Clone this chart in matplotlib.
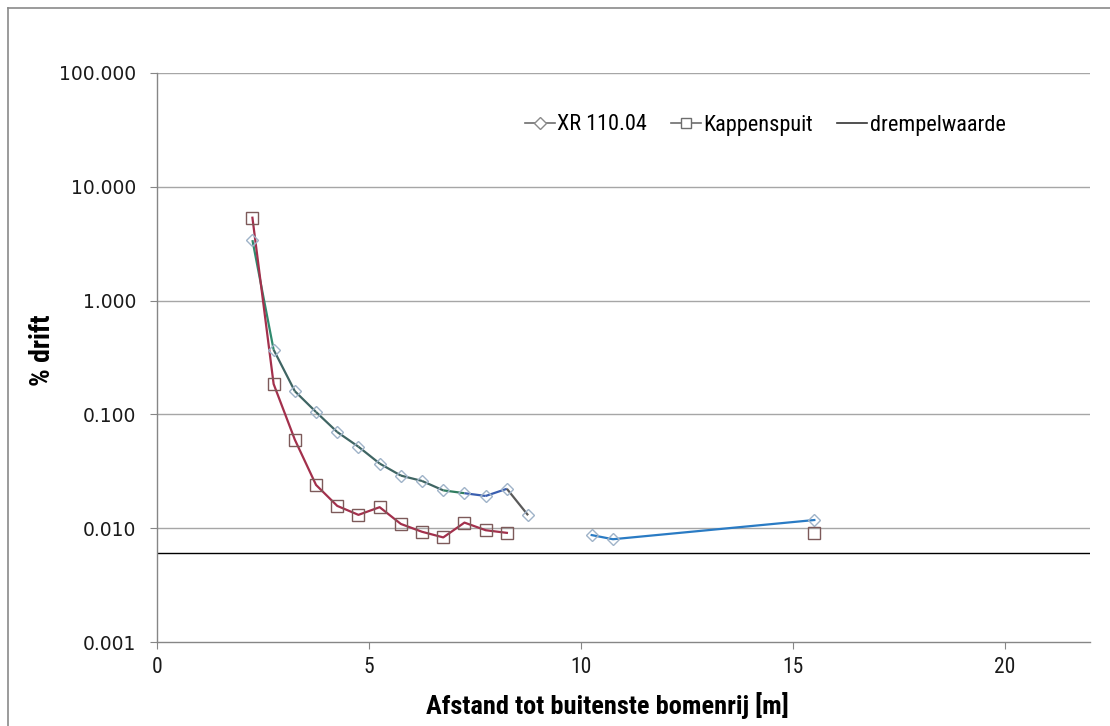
import numpy as np
import matplotlib
matplotlib.use("Agg")
import matplotlib.pyplot as plt
from matplotlib.lines import Line2D
from matplotlib.collections import LineCollection
from matplotlib.ticker import FixedLocator, FuncFormatter, NullLocator
from matplotlib import font_manager as fm

# ---- data ----
xr_x = [2.25, 2.75, 3.25, 3.75, 4.25, 4.75, 5.25, 5.75, 6.25, 6.75, 7.25, 7.75, 8.25, 8.75]
xr_y = [3.4, 0.37, 0.16, 0.105, 0.07, 0.052, 0.037, 0.029, 0.026, 0.0215, 0.0203, 0.0192, 0.0222, 0.013]
xr2_x = [10.25, 10.75, 15.5]
xr2_y = [0.0087, 0.0080, 0.0118]

kap_x = [2.25, 2.75, 3.25, 3.75, 4.25, 4.75, 5.25, 5.75, 6.25, 6.75, 7.25, 7.75, 8.25]
kap_y = [5.35, 0.185, 0.060, 0.024, 0.0157, 0.0131, 0.0153, 0.0109, 0.0093, 0.0083, 0.0112, 0.0096, 0.0091]
kap2_x = [15.5]
kap2_y = [0.0091]

threshold = 0.006
labels = ["XR 110.04", "Kappenspuit", "drempelwaarde"]
y_ticks = [0.001, 0.01, 0.1, 1, 10, 100]
x_ticks = [0, 5, 10, 15, 20]

# ---- styles ----
xr_seg_colors = ['#2f8a6e'] + ['#3f6563'] * 8 + ['#2f7d5f', '#3a5fb0', '#3a5fb0', '#5a5a5a']
xr2_color = '#2a7bc4'
kap_color = '#a3304c'

names = {f.name for f in fm.fontManager.ttflist}
narrow_family = None
for cand in ['Liberation Sans Narrow', 'Roboto Condensed', 'Open Sans Condensed', 'DejaVu Sans Condensed']:
    if cand in names:
        narrow_family = cand
        break
if narrow_family is not None:
    narrow_kw = {'family': [narrow_family, 'DejaVu Sans']}
else:
    narrow_kw = {'family': ['DejaVu Sans'], 'stretch': 'condensed'}

W, H = 1110, 726
fig = plt.figure(figsize=(W / 100, H / 100), dpi=100)
ax = fig.add_axes([157 / W, 1 - 642 / H, (1090 - 157) / W, (642 - 73) / H])
ax.set_yscale('log')
ax.set_xlim(0, 22)
ax.set_ylim(0.001, 100)

for yt in y_ticks[1:]:
    ax.axhline(yt, color='#a6a6a6', lw=1.0, zorder=0)

ax.plot([0, 22], [threshold, threshold], color='black', lw=1.0, zorder=1)

segs = []
for i in range(len(xr_x) - 1):
    segs.append([(xr_x[i], xr_y[i]), (xr_x[i + 1], xr_y[i + 1])])
lc = LineCollection(segs, colors=xr_seg_colors, linewidths=1.6, zorder=3)
ax.add_collection(lc)
ax.plot(xr2_x, xr2_y, color=xr2_color, lw=1.6, zorder=3)
ax.plot(kap_x, kap_y, color=kap_color, lw=1.6, zorder=3)

ax.plot(xr_x + xr2_x, xr_y + xr2_y, ls='none', marker='D', ms=6.5,
        mfc='none', mec='#9fb3c8', mew=1.0, zorder=4)
ax.plot(kap_x + kap2_x, kap_y + kap2_y, ls='none', marker='s', ms=8.5,
        mfc='none', mec='#7d5a5a', mew=1.0, zorder=4)

for s in ['top', 'right']:
    ax.spines[s].set_visible(False)
for s in ['left', 'bottom']:
    ax.spines[s].set_color('#868686')
    ax.spines[s].set_linewidth(1.0)
ax.yaxis.set_major_locator(FixedLocator(y_ticks))
ax.yaxis.set_minor_locator(NullLocator())
ax.yaxis.set_major_formatter(FuncFormatter(lambda v, p: f"{v:.3f}"))
ax.xaxis.set_major_locator(FixedLocator(x_ticks))
ax.tick_params(axis='y', direction='out', length=5, color='#868686', labelsize=13.5,
               labelcolor='#1a1a1a', pad=10)
ax.tick_params(axis='x', direction='out', length=5, color='#868686', labelsize=15.5,
               labelcolor='#1a1a1a', pad=6)
for t in ax.get_xticklabels():
    t.set_family(narrow_kw['family'])
    if 'stretch' in narrow_kw:
        t.set_stretch(narrow_kw['stretch'])

ax.set_xlabel("Afstand tot buitenste bomenrij [m]", fontweight='bold',
              fontsize=19, **narrow_kw)
ax.xaxis.set_label_coords((607.5 - 157) / 933, -(692 - 642) / 569)
ax.set_ylabel("% drift", fontweight='bold', fontsize=20, **narrow_kw)
ax.yaxis.set_label_coords((56 - 157) / 933, (642 - 350) / 569)

h1 = Line2D([], [], color='#6d6d6d', lw=1.2, marker='D', ms=6, mfc='white', mec='#8a8a8a')
h2 = Line2D([], [], color='#6d6d6d', lw=1.2, marker='s', ms=7.5, mfc='white', mec='#6d6d6d')
h3 = Line2D([], [], color='#333333', lw=1.2)
prop = {'size': 16}
prop.update(narrow_kw)
leg = ax.legend([h1, h2, h3], labels, loc='center', bbox_to_anchor=((765 - 157) / 933, (642 - 125) / 569),
                ncol=3, frameon=False, prop=prop,
                handlelength=1.35, handletextpad=0.1, columnspacing=1.1)

fig.add_artist(Line2D([8 / W, 8 / W], [0, 1 - 8 / H], color='#8a8a8a', lw=1.2))
fig.add_artist(Line2D([8 / W, 1], [1 - 8 / H, 1 - 8 / H], color='#8a8a8a', lw=1.2))

fig.savefig("out.png", dpi=100)
